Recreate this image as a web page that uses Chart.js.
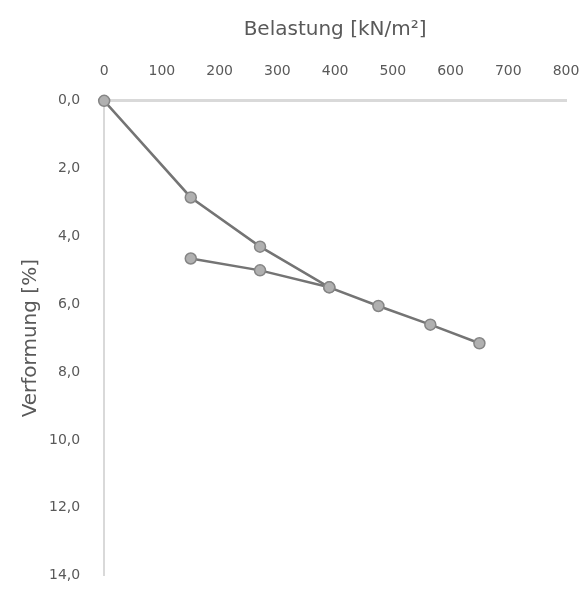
<!DOCTYPE html>
<html>
<head>
<meta charset="utf-8">
<script src="https://cdn.jsdelivr.net/npm/chart.js@4/dist/chart.umd.min.js"></script>
<style>
  html, body { margin: 0; padding: 0; background: #fff; }
  #wrap { width: 581px; height: 608px; }
</style>
</head>
<body>
<div id="wrap"><canvas id="chart" width="581" height="608"></canvas></div>
<script>
// Belastung (kN/m²) und Verformung (%)
const loadX = [0, 150, 270, 390, 475, 565, 650];
const loadY = [0.0, 2.85, 4.3, 5.5, 6.05, 6.6, 7.15];
const unloadX = [390, 270, 150];
const unloadY = [5.5, 5.0, 4.65];
const xTicks = [0, 100, 200, 300, 400, 500, 600, 700, 800];
const yTicks = [0, 2, 4, 6, 8, 10, 12, 14];

const toPts = (xs, ys) => xs.map((x, i) => ({ x: x, y: ys[i] }));

const lineStyle = {
    showLine: true,
    clip: false,
    borderColor: '#747474',
    borderWidth: 2.5,
    pointRadius: 5.5,
    pointBackgroundColor: '#b0b0b0',
    pointBorderColor: '#858585',
    pointBorderWidth: 1.5,
    fill: false,
    tension: 0
};

const txtFont = 'DejaVu Sans';

const ctx = document.getElementById('chart').getContext('2d');
const chart = new Chart(ctx, {
    type: 'scatter',
    data: {
        datasets: [
            Object.assign({ label: 'Belastung', data: toPts(loadX, loadY) }, lineStyle),
            Object.assign({ label: 'Entlastung', data: toPts(unloadX, unloadY) }, lineStyle)
        ]
    },
    options: {
        responsive: false,
        animation: false,
        layout: { autoPadding: false, padding: { left: 19, right: 0, top: 18, bottom: 27 } },
        plugins: {
            legend: { display: false },
            tooltip: { enabled: false }
        },
        scales: {
            x: {
                type: 'linear',
                position: 'top',
                min: 0,
                max: 800,
                afterBuildTicks: (axis) => { axis.ticks = xTicks.map(v => ({ value: v })); },
                // the tick padding would otherwise eat space on the right
                afterFit: (axis) => { axis.paddingRight = 15; axis.paddingLeft = 0; },
                grid: { display: false, drawTicks: false },
                border: { display: true, color: '#d9d9d9', width: 3 },
                ticks: {
                    color: '#595959',
                    font: { family: txtFont, size: 14 },
                    padding: 21,
                    maxRotation: 0
                },
                title: {
                    display: true,
                    text: 'Belastung [kN/m²]',
                    color: '#595959',
                    font: { family: txtFont, size: 20 },
                    padding: { top: 0, bottom: 0 }
                }
            },
            y: {
                type: 'linear',
                reverse: true,
                min: 0,
                max: 14,
                afterBuildTicks: (axis) => { axis.ticks = yTicks.map(v => ({ value: v })); },
                // tick padding is counted twice, take the outer half back
                afterFit: (axis) => { axis.width -= 20; },
                grid: { display: false, drawTicks: false },
                border: { display: true, color: '#d9d9d9', width: 2 },
                ticks: {
                    color: '#595959',
                    font: { family: txtFont, size: 14 },
                    padding: 24,
                    callback: (v) => v.toFixed(1).replace('.', ',')
                },
                title: {
                    display: true,
                    text: 'Verformung [%]',
                    color: '#595959',
                    font: { family: txtFont, size: 20 },
                    padding: { top: 0, bottom: 2 }
                }
            }
        }
    }
});
</script>
</body>
</html>
